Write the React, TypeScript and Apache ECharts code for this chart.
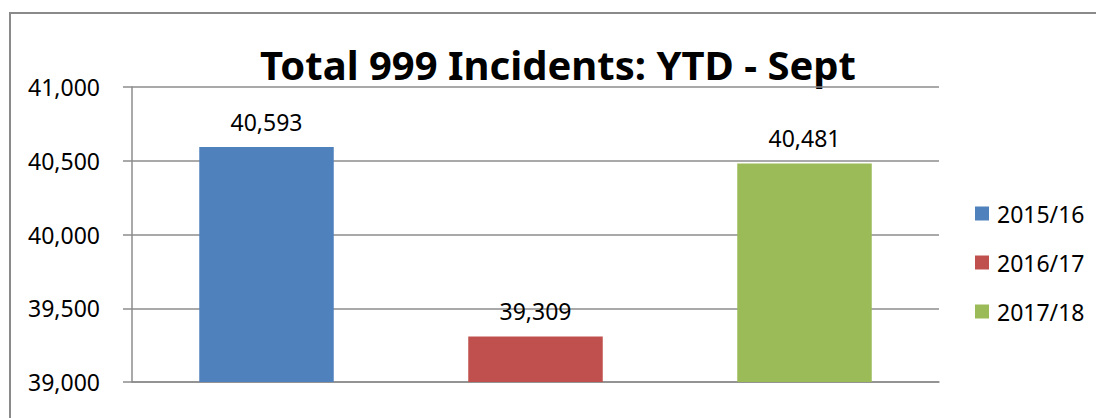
import React, { useEffect, useRef } from "react";
import * as echarts from "echarts";

const categories = ["2015/16", "2016/17", "2017/18"];
const seriesNames = ["2015/16", "2016/17", "2017/18"];
const seriesValues = [40593, 39309, 40481];
const seriesColors = ["#4F81BD", "#C0504D", "#9BBB59"];
const yTicks = [39000, 39500, 40000, 40500, 41000];
const titleText = "Total 999 Incidents: YTD - Sept";

const fmt = (v: number) => Number(v).toLocaleString("en-US");

export default function App() {
  const ref = useRef<HTMLDivElement>(null);
  useEffect(() => {
    if (!ref.current) return;
    const chart = echarts.init(ref.current, null, { renderer: "svg" });
    const font = "'Noto Sans', sans-serif";
    chart.setOption({
      animation: false,
      backgroundColor: "#ffffff",
      grid: { left: 132, right: 157, top: 87, bottom: 36, containLabel: false },
      legend: {
        orient: "vertical",
        left: 970,
        top: 197,
        itemWidth: 14,
        itemHeight: 14,
        itemGap: 26,
        icon: "rect",
        data: seriesNames,
        textStyle: { fontFamily: font, fontSize: 23, color: "#000", lineHeight: 23, padding: [0, 0, 0, 3] },
      },
      xAxis: {
        type: "category",
        data: categories,
        axisLine: { show: true, lineStyle: { color: "#8c8c8c", width: 1.5 } },
        axisTick: { show: false },
        axisLabel: { show: false },
      },
      yAxis: {
        type: "value",
        min: yTicks[0],
        max: yTicks[yTicks.length - 1],
        interval: 500,
        axisLine: { show: true, lineStyle: { color: "#8c8c8c", width: 1.5 } },
        axisTick: { show: true, length: 9, lineStyle: { color: "#8c8c8c", width: 1.5 } },
        splitLine: { show: true, lineStyle: { color: "#8c8c8c", width: 1.5 } },
        axisLabel: {
          margin: 32,
          fontFamily: font,
          fontSize: 23,
          color: "#000",
          formatter: (v: number) => fmt(v),
        },
      },
      series: seriesNames.map((name, i) => ({
        name,
        type: "bar",
        barWidth: "50%",
        barGap: "-100%",
        itemStyle: { color: seriesColors[i] },
        data: categories.map((_, j) => (j === i ? seriesValues[i] : "-")),
        label: {
          show: true,
          position: "top",
          distance: 14,
          fontFamily: font,
          fontSize: 23,
          color: "#000",
          formatter: (p: any) => fmt(p.value),
        },
      })),
      graphic: [
        {
          type: "rect",
          shape: { x: 10, y: 13, width: 1100, height: 420 },
          style: { fill: "none", stroke: "#8a8a8a", lineWidth: 2 },
          silent: true,
        },
        {
          type: "text",
          x: 558,
          y: 64,
          style: {
            text: titleText,
            fontFamily: font,
            fontWeight: "bold",
            fontSize: 40,
            fill: "#000",
            textAlign: "center",
            textVerticalAlign: "middle",
          },
        },
      ],
    });
    return () => chart.dispose();
  }, []);
  return (
    <div
      ref={ref}
      style={{ position: "absolute", left: 0, top: 0, width: 1096, height: 418 }}
    />
  );
}
